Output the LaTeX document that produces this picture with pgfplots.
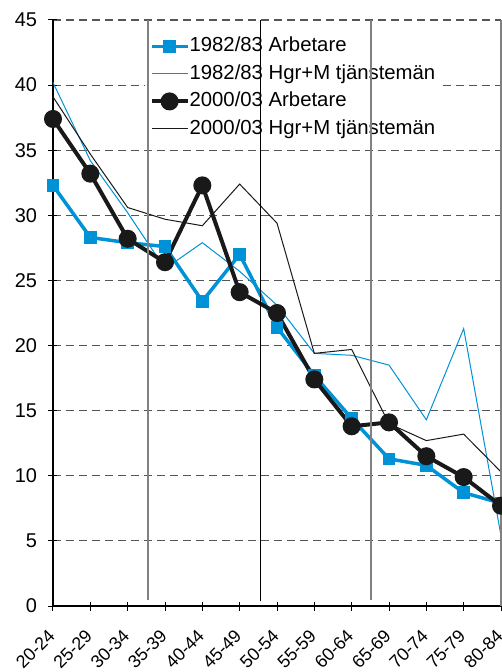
\documentclass[border=0pt]{standalone}
\usepackage{fontspec}
\setmainfont{Liberation Sans}
\usepackage{pgfplots}
\pgfplotsset{compat=1.18}
\definecolor{myblue}{RGB}{0,146,214}
\definecolor{gridgray}{RGB}{85,85,85}
\definecolor{vgray}{RGB}{128,128,128}
\begin{document}
\begin{tikzpicture}
\begin{axis}[
  scale only axis, width=448bp, height=586bp,
  xmin=0, xmax=12, ymin=0, ymax=45,
  axis x line*=bottom, axis y line*=left,
  axis line style={black, line width=1.3bp, -},
  xtick={0,...,12},
  xticklabels={20-24,25-29,30-34,35-39,40-44,45-49,50-54,55-59,60-64,65-69,70-74,75-79,80-84},
  ytick={0,5,...,45},
  tick align=center,
  major tick length=9bp,
  tick style={black, line width=1bp},
  ymajorgrids,
  grid style={gridgray, dash pattern=on 8bp off 5bp, line width=1.2bp},
  /pgf/number format/assume math mode=true,
  yticklabel style={font=\fontsize{20}{24}\selectfont, xshift=-8bp},
  xticklabel style={font=\fontsize{18}{22}\selectfont, xshift=1bp, yshift=-20bp, rotate=45, anchor=east},
  clip=false,
  legend cell align=left,
  legend style={at={(rel axis cs:0.204,0.980)}, anchor=north west, draw=none, fill=white,
    inner sep=5bp, font=\fontsize{20.4}{24}\selectfont, row sep=8.5bp,
    nodes={inner sep=0pt, text height=15bp, text depth=4bp}},
  legend image code/.code={\draw[mark repeat=2,mark phase=2,#1] plot coordinates {(0bp,0bp) (18bp,0bp) (36bp,0bp)};},
]
\addplot[myblue, line width=3.5bp, mark=square*, mark size=4.5bp, mark options={solid}] coordinates {
(0,32.3) (1,28.3) (2,27.9) (3,27.6) (4,23.4) (5,27.0) (6,21.4) (7,17.7) (8,14.4) (9,11.3) (10,10.8) (11,8.7) (12,7.9)};
\addlegendentry{1982/83 Arbetare}
\addplot[myblue, line width=1bp, mark=none] coordinates {
(0,40.2) (1,34.2) (2,30.2) (3,25.9) (4,27.9) (5,25.7) (6,23.1) (7,19.4) (8,19.25) (9,18.5) (10,14.3) (11,21.3) (12,5.4)};
\addlegendentry{1982/83 Hgr+M tjänstemän}
\addplot[black!90, line width=4bp, mark=*, mark size=7bp] coordinates {
(0,37.4) (1,33.2) (2,28.2) (3,26.4) (4,32.3) (5,24.1) (6,22.5) (7,17.4) (8,13.8) (9,14.1) (10,11.5) (11,9.9) (12,7.7)};
\addlegendentry{2000/03 Arbetare}
\addplot[black!90, line width=1bp, mark=none] coordinates {
(0,39.1) (1,34.7) (2,30.6) (3,29.7) (4,29.2) (5,32.4) (6,29.4) (7,19.4) (8,19.7) (9,14.0) (10,12.7) (11,13.2) (12,10.3)};
\addlegendentry{2000/03 Hgr+M tjänstemän}
\draw[vgray, line width=1.5bp] (axis cs:12,0) -- (axis cs:12,45);
\coordinate (sw) at (rel axis cs:0,0);
\coordinate (ne) at (rel axis cs:1,1);
\coordinate (a1) at (axis cs:2.55,0.45);
\coordinate (a2) at (axis cs:2.55,45);
\coordinate (b1) at (axis cs:5.55,0.35);
\coordinate (b2) at (axis cs:5.55,45);
\coordinate (c1) at (axis cs:8.53,0.45);
\coordinate (c2) at (axis cs:8.53,45);
\end{axis}
\draw[vgray, line width=2bp] (a1) -- (a2);
\draw[black, line width=1.4bp] (b1) -- (b2);
\draw[vgray, line width=2bp] (c1) -- (c2);
\pgfresetboundingbox
\path ([xshift=-53bp,yshift=-66bp]sw) rectangle ([xshift=1bp,yshift=20bp]ne);
\end{tikzpicture}
\end{document}
